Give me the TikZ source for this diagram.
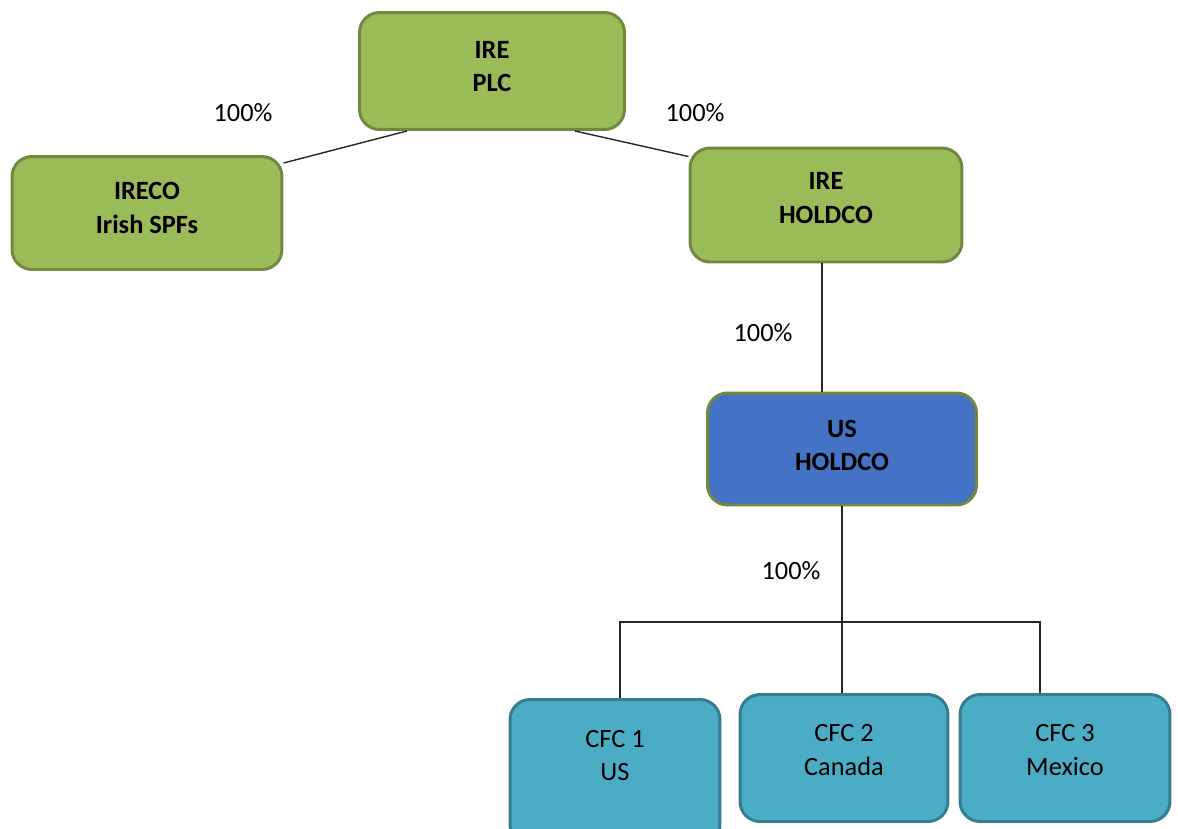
\documentclass[tikz,border=0pt]{standalone}
\usepackage{fontspec}
\setmainfont{Carlito}
\usetikzlibrary{calc}
\definecolor{boxgreen}{HTML}{9BBB59}
\definecolor{edgegreen}{HTML}{71893F}
\definecolor{boxblue}{HTML}{4472C4}
\definecolor{boxteal}{HTML}{4BACC6}
\definecolor{edgeteal}{HTML}{357D91}
\tikzset{
  company/.style={draw=edgegreen, fill=boxgreen, line width=1.7pt, rounded corners=0.4cm,
    align=center, font=\fontsize{15}{19}\selectfont\bfseries},
  cfcbox/.style={draw=edgeteal, fill=boxteal, line width=1.7pt, rounded corners=0.4cm,
    align=center, font=\fontsize{15}{19}\selectfont, minimum width=4.2cm},
  share/.style={font=\fontsize{15}{19}\selectfont},
  link/.style={line width=0.8pt, black!85}
}
\begin{document}
\begin{tikzpicture}[x=0.02cm, y=-0.02cm]
    \useasboundingbox (0,0) rectangle (1178,829);

    % 爱尔兰公司
    \node[company, minimum width=5.3cm, minimum height=2.34cm, text depth=5pt] (plc) at (492,71) {IRE\\PLC};
    \node[company, minimum width=5.4cm, minimum height=2.26cm, text depth=6pt] (ireco) at (147,213) {IRECO\\Irish SPFs};
    \node[company, minimum width=5.44cm, minimum height=2.28cm, text depth=8pt] (hold) at (826,205) {IRE\\HOLDCO};

    % 美国控股
    \node[company, fill=boxblue, minimum width=5.38cm, minimum height=2.24cm, text depth=4pt] (ushold) at (842,449) {US\\HOLDCO};

    % 受控外国公司
    \node[cfcbox, minimum height=2.9cm, text depth=19pt] (cfc1) at (615,772) {CFC 1\\US};
    \node[cfcbox, minimum width=4.16cm, minimum height=2.54cm, text depth=9pt] (cfc2) at (844,758) {CFC 2\\Canada};
    \node[cfcbox, minimum height=2.54cm, text depth=9pt] (cfc3) at (1065,758) {CFC 3\\Mexico};

    % 持股连线
    \draw[link] ($(plc.south)+(-85,0)$) -- ($(ireco.north east)+(0,8)$);
    \draw[link] ($(plc.south)+(83,0)$) -- ($(hold.north west)+(0,10)$);
    \coordinate (drop) at ($(hold.south)+(-4,0)$);
    \draw[link] (drop) -- (drop |- ushold.north);
    \coordinate (bus) at (842,622);
    \draw[link] (ushold.south) -- (bus);
    \draw[link] ($(cfc1.north)+(5,0)$) |- (bus) -| ($(cfc3.north)+(-25,0)$);
    \draw[link] (bus) -- (bus |- cfc2.north);

    % 比例
    \node[share] (p1) at (243,113) {100\%};
    \node[share] (p2) at (695,113) {100\%};
    \node[share] (p3) at (763,333) {100\%};
    \node[share] (p4) at (791,571) {100\%};
\end{tikzpicture}
\end{document}
